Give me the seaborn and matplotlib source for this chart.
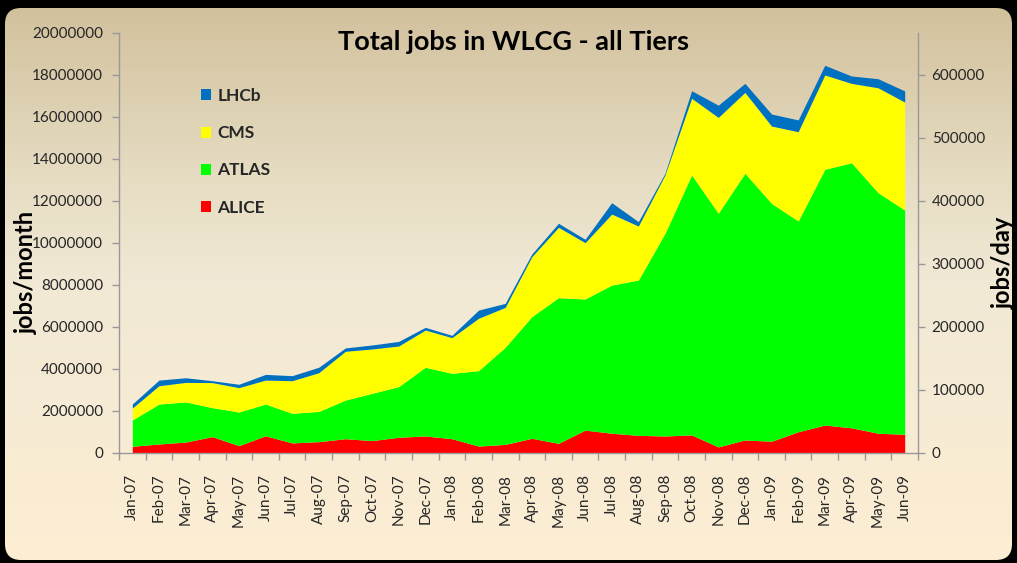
import matplotlib
matplotlib.use("Agg")
import matplotlib.pyplot as plt
import numpy as np
import seaborn as sns
from matplotlib.colors import LinearSegmentedColormap
from matplotlib.patches import FancyBboxPatch
from matplotlib.ticker import FuncFormatter

months = [
    "Jan-07", "Feb-07", "Mar-07", "Apr-07", "May-07", "Jun-07", "Jul-07", "Aug-07",
    "Sep-07", "Oct-07", "Nov-07", "Dec-07", "Jan-08", "Feb-08", "Mar-08", "Apr-08",
    "May-08", "Jun-08", "Jul-08", "Aug-08", "Sep-08", "Oct-08", "Nov-08", "Dec-08",
    "Jan-09", "Feb-09", "Mar-09", "Apr-09", "May-09", "Jun-09",
]
alice = [
    320000, 430000, 520000, 780000, 350000, 820000, 480000, 540000,
    680000, 590000, 750000, 810000, 680000, 330000, 410000, 700000,
    460000, 1090000, 940000, 840000, 810000, 860000, 290000, 620000,
    560000, 1010000, 1330000, 1200000, 940000, 890000,
]
atlas = [
    1250000, 1900000, 1910000, 1380000, 1600000, 1510000, 1410000, 1440000,
    1840000, 2250000, 2410000, 3270000, 3110000, 3590000, 4620000, 5790000,
    6930000, 6240000, 7050000, 7390000, 9640000, 12370000, 11120000, 12690000,
    11320000, 10030000, 12170000, 12610000, 11450000, 10670000,
]
cms = [
    570000, 870000, 930000, 1190000, 1160000, 1140000, 1550000, 1840000,
    2320000, 2110000, 1930000, 1770000, 1700000, 2490000, 1900000, 2850000,
    3350000, 2680000, 3380000, 2570000, 2780000, 3650000, 4560000, 3850000,
    3680000, 4250000, 4490000, 3780000, 4990000, 5140000,
]
lhcb = [
    190000, 270000, 220000, 90000, 160000, 270000, 240000, 260000,
    160000, 190000, 220000, 130000, 110000, 390000, 190000, 130000,
    190000, 160000, 540000, 210000, 80000, 360000, 580000, 430000,
    570000, 560000, 460000, 350000, 430000, 530000,
]
experiments = ["ALICE", "ATLAS", "CMS", "LHCb"]
colours = ["#ff0000", "#00ff00", "#ffff00", "#0070c0"]

sns.set_theme(style="ticks")
plt.rcParams["font.family"] = ["Lato", "DejaVu Sans"]

W, H = 1017, 563
fig = plt.figure(figsize=(W / 100, H / 100), dpi=100, facecolor="black")

# rounded panel with a vertical tan -> cream gradient
bg = fig.add_axes([0, 0, 1, 1])
bg.set_axis_off()
panel = FancyBboxPatch((5, 8), 1007, 552, boxstyle="round,pad=0,rounding_size=16",
                       facecolor="none", edgecolor="none")
bg.add_patch(panel)
panel_cmap = LinearSegmentedColormap.from_list(
    "panel", [(0, "#d2c19d"), (0.3, "#e6dcc2"), (0.5, "#f1e9d5"), (1, "#fdeed3")]
)
img = bg.imshow(np.linspace(0, 1, 256).reshape(-1, 1), extent=(5, 1012, 560, 8),
                aspect="auto", cmap=panel_cmap)
img.set_clip_path(panel)
bg.set_xlim(0, W)
bg.set_ylim(H, 0)

ax = fig.add_axes([119 / W, 1 - 453 / H, (918 - 119) / W, (453 - 32.7) / H])
ax.patch.set_alpha(0)
x = np.arange(len(months))
ax.stackplot(x, alice, atlas, cms, lhcb, colors=colours, labels=experiments, linewidth=0)

ax.set_xlim(-0.5, len(months) - 0.5)
ax.set_ylim(0, 20000000)
ax.set_yticks(np.arange(0, 20000001, 2000000))
ax.yaxis.set_major_formatter(FuncFormatter(lambda v, _: f"{int(v)}"))
ax.set_xticks(x)
ax.set_xticklabels(months, rotation=90)
ax.set_xticks(np.arange(-0.5, len(months), 1), minor=True)
ax.tick_params(axis="x", which="major", length=0, pad=15, labelsize=11, labelcolor="#262626")
ax.tick_params(axis="x", which="minor", length=5, width=1, color="#999999")
ax.tick_params(axis="y", length=5, width=1, color="#999999", pad=6.5,
               labelsize=11, labelcolor="#262626")
for side in ["top", "right"]:
    ax.spines[side].set_visible(False)
for side in ["left", "bottom"]:
    ax.spines[side].set_color("#999999")
    ax.spines[side].set_linewidth(1)

ax2 = ax.twinx()
ax2.set_ylim(0, 20000000 / 30)
ax2.set_yticks(np.arange(0, 600001, 100000))
ax2.yaxis.set_major_formatter(FuncFormatter(lambda v, _: f"{int(v)}"))
ax2.tick_params(axis="y", length=5, width=1, color="#999999", pad=4.8,
                labelsize=11, labelcolor="#262626")
for side in ["top", "left", "bottom"]:
    ax2.spines[side].set_visible(False)
ax2.spines["right"].set_color("#999999")
ax2.spines["right"].set_linewidth(1)

handles, labels = ax.get_legend_handles_labels()
ax.legend(handles[::-1], labels[::-1], loc="upper left",
          bbox_to_anchor=(201 / W, 1 - 88 / H), bbox_transform=fig.transFigure,
          frameon=False, borderpad=0, borderaxespad=0, handlelength=0.6,
          handleheight=0.6, handletextpad=0.35, labelspacing=1.22,
          prop={"size": 12.5, "weight": "bold"})

fig.text(514 / W, 1 - 50 / H, "Total jobs in WLCG - all Tiers", ha="center",
         va="baseline", fontsize=19.5, fontweight="bold", color="black")
fig.text(26 / W, 1 - 272 / H, "jobs/month", rotation=90, ha="center", va="center",
         fontsize=17, fontweight="bold", color="black")
fig.text(992 / W, 1 - 263 / H, "jobs/day", rotation=90, ha="left", va="center",
         fontsize=17, fontweight="bold", color="black")

fig.savefig("out.png", dpi=100, facecolor="black")
